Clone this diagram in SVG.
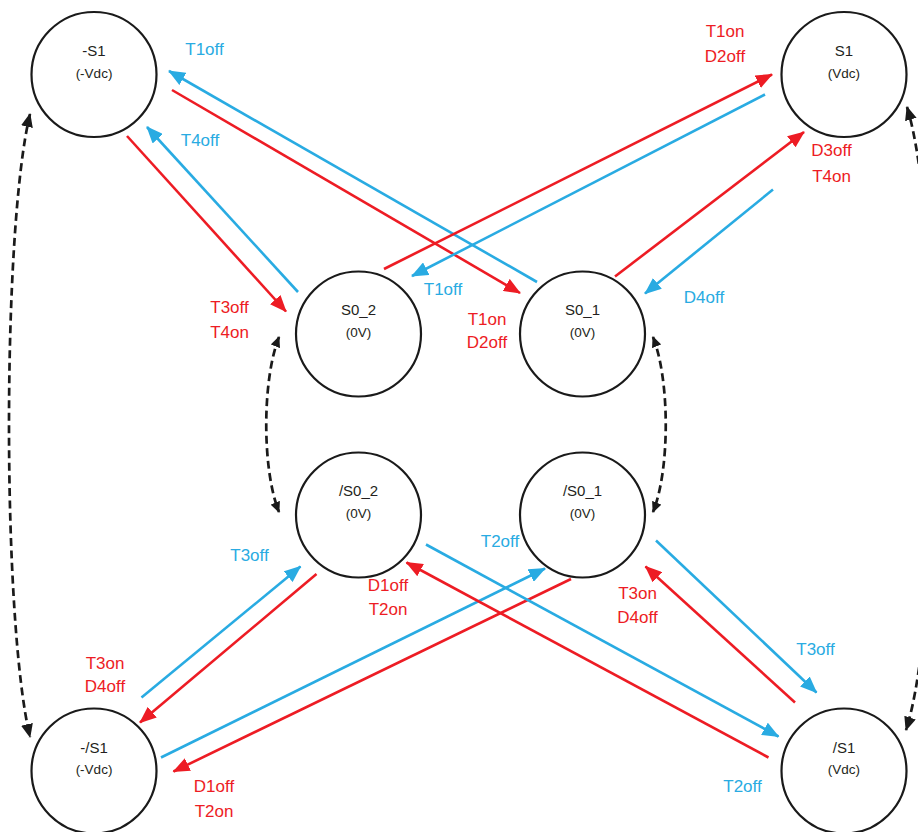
<svg xmlns="http://www.w3.org/2000/svg" width="918" height="832" viewBox="0 0 918 832">
<style>
.node circle{fill:#fff;stroke:#1a1a1a;stroke-width:2.2}
.nl{font-family:"Liberation Sans",Arial,sans-serif;font-size:15px;fill:#231f20;text-anchor:middle}
.ns{font-family:"Liberation Sans",Arial,sans-serif;font-size:13.5px;fill:#231f20;text-anchor:middle}
.b{stroke:#29abe2;stroke-width:2.6;fill:none;marker-end:url(#ab)}
.r{stroke:#ed1c24;stroke-width:2.6;fill:none;marker-end:url(#ar)}
.d{stroke:#1a1a1a;stroke-width:2.7;fill:none;stroke-dasharray:8 4.5}
.dl{marker-start:url(#akL);marker-end:url(#akL)}
.ds{marker-start:url(#akS);marker-end:url(#akS)}
.lb{font-family:"Liberation Sans",Arial,sans-serif;font-size:17px;fill:#29abe2;text-anchor:middle}
.lr{font-family:"Liberation Sans",Arial,sans-serif;font-size:17px;fill:#ed1c24;text-anchor:middle}
</style>
<defs>
<marker id="ab" markerUnits="userSpaceOnUse" markerWidth="17" markerHeight="14" viewBox="0 0 17 14" refX="16" refY="7" orient="auto"><path d="M0,0 L17,7 L0,14 z" fill="#29abe2"/></marker>
<marker id="ar" markerUnits="userSpaceOnUse" markerWidth="17" markerHeight="14" viewBox="0 0 17 14" refX="16" refY="7" orient="auto"><path d="M0,0 L17,7 L0,14 z" fill="#ed1c24"/></marker>
<marker id="akL" markerUnits="userSpaceOnUse" markerWidth="14" markerHeight="12" viewBox="0 0 14 12" refX="13" refY="6" orient="auto-start-reverse"><path d="M0,0 L14,6 L0,12 z" fill="#1a1a1a"/></marker>
<marker id="akS" markerUnits="userSpaceOnUse" markerWidth="11" markerHeight="10" viewBox="0 0 11 10" refX="10" refY="5" orient="auto-start-reverse"><path d="M0,0 L11,5 L0,10 z" fill="#1a1a1a"/></marker>
</defs>

<g id="connectors">
<line class="b" x1="537" y1="282" x2="169" y2="71"/>
<line class="r" x1="172" y1="90" x2="520" y2="293"/>
<line class="b" x1="298" y1="292" x2="147" y2="127"/>
<line class="r" x1="127" y1="136" x2="286" y2="311.5"/>
<line class="r" x1="384" y1="269" x2="772" y2="74.5"/>
<line class="b" x1="765" y1="94.5" x2="412" y2="276"/>
<line class="r" x1="615" y1="276.5" x2="804" y2="132"/>
<line class="b" x1="773" y1="189.5" x2="645" y2="293.5"/>
<line class="b" x1="141.5" y1="697.5" x2="300.5" y2="566.5"/>
<line class="r" x1="316.5" y1="574" x2="140" y2="722.5"/>
<line class="b" x1="161" y1="757.5" x2="545" y2="568.5"/>
<line class="r" x1="571" y1="579" x2="173.5" y2="771.5"/>
<line class="b" x1="426" y1="544.5" x2="778.5" y2="736.5"/>
<line class="r" x1="768.5" y1="757.5" x2="406.5" y2="562.5"/>
<line class="b" x1="656" y1="540.5" x2="816.5" y2="692.5"/>
<line class="r" x1="795" y1="702.5" x2="645.5" y2="566.5"/>
<path class="d dl" d="M30,114 C2,230 2,620 30,737"/>
<path class="d dl" d="M907,107 C942,220 942,620 906,730"/>
<path class="d ds" d="M279,337 C262,380 262,470 279,512"/>
<path class="d ds" d="M653,337 C670,380 670,470 653,512"/>
</g>

<g id="labels">
<text class="lb" x="204.5" y="55">T1off</text>
<text class="lb" x="200" y="146">T4off</text>
<text class="lr" x="229.5" y="313">T3off</text>
<text class="lr" x="229.5" y="338">T4on</text>
<text class="lr" x="487" y="325">T1on</text>
<text class="lr" x="487" y="348">D2off</text>
<text class="lr" x="725" y="37">T1on</text>
<text class="lr" x="725" y="62">D2off</text>
<text class="lb" x="443" y="295">T1off</text>
<text class="lr" x="831.5" y="156">D3off</text>
<text class="lr" x="831.5" y="182">T4on</text>
<text class="lb" x="704" y="303">D4off</text>
<text class="lb" x="249.5" y="561">T3off</text>
<text class="lr" x="105" y="669">T3on</text>
<text class="lr" x="105" y="692">D4off</text>
<text class="lb" x="500" y="547">T2off</text>
<text class="lr" x="214" y="792">D1off</text>
<text class="lr" x="214" y="817">T2on</text>
<text class="lr" x="388" y="591">D1off</text>
<text class="lr" x="388" y="615">T2on</text>
<text class="lr" x="637.5" y="599">T3on</text>
<text class="lr" x="637.5" y="623">D4off</text>
<text class="lb" x="815.5" y="655">T3off</text>
<text class="lb" x="742.5" y="792">T2off</text>
</g>

<g id="node-negS1" class="node"><circle cx="94" cy="74.5" r="62.5"/><text class="nl" x="94" y="55.5">-S1</text><text class="ns" x="94" y="77.5">(-Vdc)</text></g>
<g id="node-S1" class="node"><circle cx="844" cy="74.5" r="62.5"/><text class="nl" x="844" y="55.5">S1</text><text class="ns" x="844" y="77.5">(Vdc)</text></g>
<g id="node-S0_2" class="node"><circle cx="358.5" cy="334" r="62.5"/><text class="nl" x="358.5" y="314.5">S0_2</text><text class="ns" x="358.5" y="337">(0V)</text></g>
<g id="node-S0_1" class="node"><circle cx="582.5" cy="334" r="62.5"/><text class="nl" x="582.5" y="314.5">S0_1</text><text class="ns" x="582.5" y="337">(0V)</text></g>
<g id="node-notS0_2" class="node"><circle cx="358.5" cy="515" r="62.5"/><text class="nl" x="358.5" y="495.5">/S0_2</text><text class="ns" x="358.5" y="518">(0V)</text></g>
<g id="node-notS0_1" class="node"><circle cx="582.5" cy="515" r="62.5"/><text class="nl" x="582.5" y="495.5">/S0_1</text><text class="ns" x="582.5" y="518">(0V)</text></g>
<g id="node-negnotS1" class="node"><circle cx="94" cy="771" r="62.5"/><text class="nl" x="94" y="753">-/S1</text><text class="ns" x="94" y="774">(-Vdc)</text></g>
<g id="node-notS1" class="node"><circle cx="844" cy="771" r="62.5"/><text class="nl" x="844" y="753">/S1</text><text class="ns" x="844" y="774">(Vdc)</text></g>
</svg>
